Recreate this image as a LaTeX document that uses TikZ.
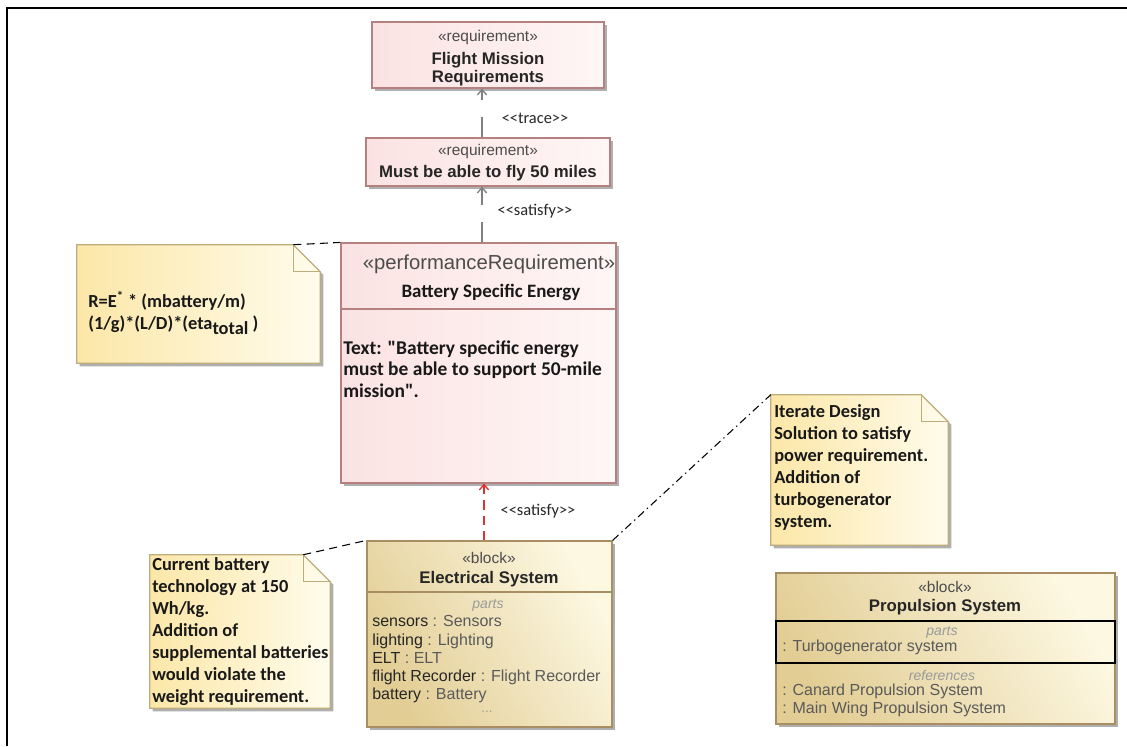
\documentclass[tikz,border=0pt]{standalone}
\usepackage{fontspec}
\setmainfont{Liberation Sans}
\newfontfamily\calib{Carlito}
\usetikzlibrary{arrows.meta,fit}
\definecolor{reqline}{RGB}{180,128,128}
\definecolor{reqA}{RGB}{251,226,226}
\definecolor{reqB}{RGB}{255,246,246}
\definecolor{blkline}{RGB}{168,142,98}
\definecolor{blkA}{RGB}{226,205,148}
\definecolor{blkB}{RGB}{253,248,226}
\definecolor{noteline}{RGB}{190,172,122}
\definecolor{noteA}{RGB}{252,231,168}
\definecolor{noteB}{RGB}{255,252,236}
\definecolor{shadowc}{RGB}{175,175,175}
\definecolor{satred}{RGB}{222,50,50}
\definecolor{typegray}{RGB}{90,90,90}
\tikzset{
  boxshadow/.style={fill=shadowc},
  reqbox/.style={draw=reqline, line width=0.9pt, left color=reqA, right color=reqB, inner sep=0pt},
  blkbox/.style={draw=blkline, line width=0.9pt, left color=blkA, right color=blkB, shading angle=120, inner sep=0pt},
  noteframe/.style={draw=noteline, line width=0.9pt, left color=noteA, right color=noteB},
  region/.style={inner sep=0pt},
  stereo/.style={font=\fontsize{11.6}{13.5}\selectfont, text=black!70},
  title/.style={font=\bfseries\fontsize{12.6}{13.5}\selectfont, text=black!85},
  body/.style={font=\fontsize{12}{13.7}\selectfont, align=left, text=black!85},
  comp/.style={font=\itshape\fontsize{10.5}{12}\selectfont, text=black!40},
  notetext/.style={font=\calib\bfseries\fontsize{13.8}{16.5}\selectfont, align=left, text=black!90, inner sep=0pt},
  lbl/.style={font=\calib\fontsize{12.3}{14}\selectfont, text=black!85},
  graydep/.style={draw=black!50, line width=1pt, dash pattern=on 15pt off 13pt, -{Straight Barb[length=4pt,width=7pt]}},
  reddep/.style={draw=satred, line width=1pt, dash pattern=on 7pt off 4.5pt, -{Straight Barb[length=4pt,width=7pt]}},
  anchorline/.style={draw=black, line width=0.8pt, dash pattern=on 6pt off 4pt},
  anchordot/.style={draw=black, line width=0.8pt, dash pattern=on 6pt off 3pt on 1pt off 3pt},
}
\newcommand\dognote[1]{%
  \fill[shadowc] ([shift={(3,3)}]#1.north west) -- ([shift={(-24,3)}]#1.north east) -- ([shift={(3,30)}]#1.north east) -- ([shift={(3,3)}]#1.south east) -- ([shift={(3,3)}]#1.south west) -- cycle;
  \draw[noteframe] (#1.north west) -- ([shift={(-27,0)}]#1.north east) -- ([shift={(0,27)}]#1.north east) -- (#1.south east) -- (#1.south west) -- cycle;
  \draw[noteline, line width=0.9pt] ([shift={(-27,0)}]#1.north east) -- ([shift={(-27,27)}]#1.north east) -- ([shift={(0,27)}]#1.north east);
}
\begin{document}
\begin{tikzpicture}[x=0.75pt,y=-0.75pt]
\useasboundingbox (0,0) rectangle (1127,746);
% frame
\draw[line width=1.9pt] (7,746) -- (7,8) -- (1127,8);

% shadows
\fill[boxshadow] (375,25) rectangle (607,91);
\fill[boxshadow] (369,141) rectangle (613,189);
\fill[boxshadow] (344,246) rectangle (619,486);
\fill[boxshadow] (370,544) rectangle (615,730);
\fill[boxshadow] (779,576) rectangle (1118,727);

% boxes
\node[reqbox, fit={(372,22) (604,88)}] (fmr) {};
\node[reqbox, fit={(366,138) (610,186)}] (must) {};
\node[reqbox, fit={(341,243) (616,483)}] (perf) {};
\draw[reqline, line width=0.9pt] (perf.west |- 0,309) -- (perf.east |- 0,309);
\node[blkbox, fit={(367,541) (612,727)}] (elec) {};
\draw[blkline, line width=0.9pt] (elec.west |- 0,592) -- (elec.east |- 0,592);
\node[blkbox, fit={(776,573) (1115,724)}] (prop) {};
\node[draw=black, line width=1.1pt, fit={(776,621) (1115,663)}, inner sep=0pt] (propparts) {};

% notes
\node[region, fit={(77,245) (320,363)}] (n1) {};
\dognote{n1}
\node[region, fit={(771,395) (948,545)}] (n2) {};
\dognote{n2}
\node[region, fit={(150,555) (330,708)}] (n3) {};
\dognote{n3}

% texts: Flight Mission Requirements
\node[stereo] (fmrS) at (488,38) {«requirement»};
\node[title, align=center] (fmrT) at (488,69) {Flight Mission\\Requirements};
% Must be able
\node[stereo] (mustS) at (488,151) {«requirement»};
\node[title] (mustT) at (488,173) {Must be able to fly 50 miles};
% Perf
\node[font=\fontsize{15.2}{17}\selectfont, text=black!70] (perfS) at (489,264) {«performanceRequirement»};
\node[font=\calib\bfseries\fontsize{14.2}{15}\selectfont, text=black!90] (perfT) at (491,292) {Battery Specific Energy};
\node[font=\calib\bfseries\fontsize{14.6}{16.1}\selectfont, align=left, anchor=west, text=black!90, inner sep=0pt] (perfX) at (343,369) {Text: "Battery specific energy\\must be able to support 50-mile\\mission".};
% Electrical
\node[stereo] (elecS) at (489,558) {«block»};
\node[title] (elecT) at (489,579) {Electrical System};
\node[comp] (elecP) at (488,605) {parts};
\node[body, anchor=west, inner sep=0pt] (elecL) at (372,659.5) {sensors \textcolor{typegray}{: Sensors}\\lighting \textcolor{typegray}{: Lighting}\\ELT \textcolor{typegray}{: ELT}\\flight Recorder \textcolor{typegray}{: Flight Recorder}\\battery \textcolor{typegray}{: Battery}};
\node[comp, font=\fontsize{10}{12}\selectfont] (elecD) at (487,712) {...};
% Propulsion
\node[stereo] (propS) at (945,587) {«block»};
\node[title] (propT) at (945,607) {Propulsion System};
\node[comp] (propP) at (942,632) {parts};
\node[body, anchor=west, text=typegray, inner sep=0pt] (propL1) at (782,647) {: Turbogenerator system};
\node[comp] (propR) at (942,675) {references};
\node[body, anchor=west, text=typegray, inner sep=0pt] (propL2) at (782,700.5) {: Canard Propulsion System\\: Main Wing Propulsion System};

% note texts
\node[notetext, anchor=west] (n1t) at (88,313) {R=E\textsuperscript{*} * (mbattery/m)\\(1/g)*(L/D)*(eta\raisebox{-0.3em}{total} )};
\node[notetext, anchor=west] (n2t) at (774,467) {Iterate Design\\Solution to satisfy\\power requirement.\\Addition of\\turbogenerator\\system.};
\node[notetext, anchor=west] (n3t) at (152,632) {Current battery\\technology at 150\\Wh/kg.\\Addition of\\supplemental batteries\\would violate the\\weight requirement.};

% dependencies
\coordinate (ax) at (482,0);
\coordinate (bx) at (484,0);
\draw[graydep] (ax |- must.north) -- (ax |- fmr.south);
\draw[graydep] (ax |- perf.north) -- (ax |- must.south);
\draw[reddep] (bx |- elec.north) -- (bx |- perf.south);
\node[lbl] (l1) at (535,118) {<<trace>>};
\node[lbl] (l2) at (535,211) {<<satisfy>>};
\node[lbl] (l3) at (538,511) {<<satisfy>>};

% note anchors
\draw[anchorline] ([shift={(-27,0)}]n1.north east) -- (perf.north west);
\draw[anchorline] ([shift={(-27,0)}]n3.north east) -- (elec.north west);
\draw[anchordot] (elec.north east) -- (n2.north west);
\end{tikzpicture}
\end{document}
